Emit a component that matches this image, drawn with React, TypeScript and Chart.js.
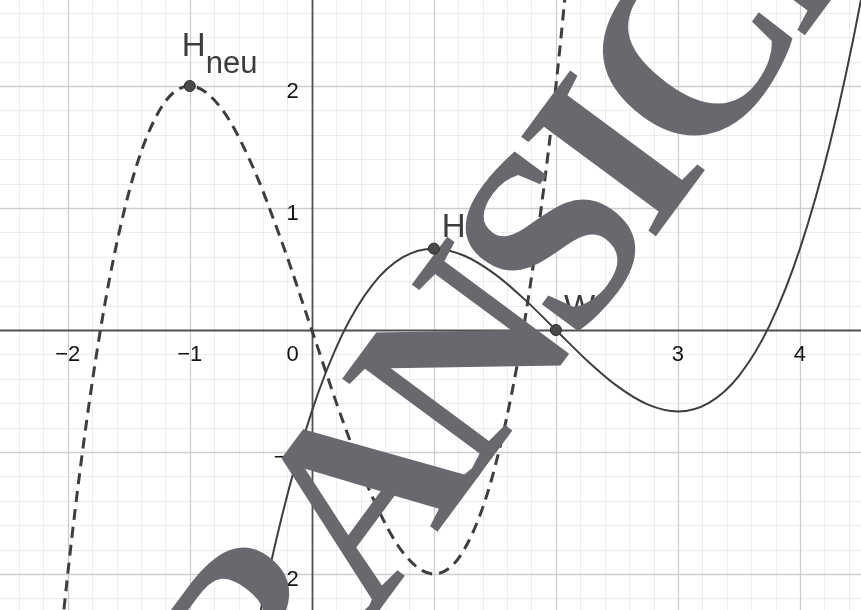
import React, { useEffect, useRef } from "react";
import { Chart, registerables } from "chart.js";

Chart.register(...registerables);

// ---- axis ranges (visible window) ----
const xRange = [-2.555, 4.5];
const yRange = [-2.295, 2.705];

// ---- solid curve ----
const solidX = [-0.75, -0.5, -0.25, 0, 0.25, 0.5, 0.75, 1, 1.25, 1.5, 1.75, 2, 2.25, 2.5, 2.75, 3, 3.25, 3.5, 3.75, 4, 4.25, 4.5, 4.75];
const solidY = [-4.182, -2.708, -1.547, -0.667, -0.036, 0.375, 0.599, 0.667, 0.609, 0.458, 0.245, 0, -0.245, -0.458, -0.609, -0.667, -0.599, -0.375, 0.036, 0.667, 1.547, 2.708, 4.182];

// ---- dashed curve ----
const dashedX = [-2.25, -2, -1.75, -1.5, -1.25, -1, -0.75, -0.5, -0.25, 0, 0.25, 0.5, 0.75, 1, 1.25, 1.5, 1.75, 2, 2.25];
const dashedY = [-4.641, -2, -0.109, 1.125, 1.797, 2, 1.828, 1.375, 0.734, 0, -0.734, -1.375, -1.828, -2, -1.797, -1.125, 0.109, 2, 4.641];

// ---- marked points ----
const pointNames = ["H", "W", "Hneu"];
const pointX = [1, 2, -1];
const pointY = [0.667, 0, 2];

// ---- ticks ----
const xTickValues = [-2, -1, 0, 1, 2, 3, 4];
const xTickLabels = ["−2", "−1", "0", "1", "2", "3", "4"];
const yTickValues = [-2, -1, 1, 2];
const yTickLabels = ["−2", "−1", "1", "2"];
const minorStep = 0.2;

const watermarkText = "VORANSICHT";

const LABEL_FONT = '"Liberation Sans", Arial, sans-serif';

const geoPlugin = {
  id: "geoPlugin",
  beforeDraw(chart: any) {
    const { ctx, width, height } = chart;
    ctx.save();
    ctx.fillStyle = "#ffffff";
    ctx.fillRect(0, 0, width, height);
    ctx.restore();
  },
  beforeDatasetsDraw(chart: any) {
    const { ctx, chartArea } = chart;
    const xs = chart.scales.x;
    const ys = chart.scales.y;
    ctx.save();
    const vLine = (v: number, color: string, w: number) => {
      const p = Math.round(xs.getPixelForValue(v)) + 0.5;
      ctx.strokeStyle = color;
      ctx.lineWidth = w;
      ctx.beginPath();
      ctx.moveTo(p, chartArea.top);
      ctx.lineTo(p, chartArea.bottom);
      ctx.stroke();
    };
    const hLine = (v: number, color: string, w: number) => {
      const p = Math.round(ys.getPixelForValue(v)) + 0.5;
      ctx.strokeStyle = color;
      ctx.lineWidth = w;
      ctx.beginPath();
      ctx.moveTo(chartArea.left, p);
      ctx.lineTo(chartArea.right, p);
      ctx.stroke();
    };
    const iterate = (min: number, max: number, fn: (v: number, major: boolean) => void) => {
      for (let i = Math.ceil(min / minorStep); i <= Math.floor(max / minorStep); i++) {
        const major = ((i % 5) + 5) % 5 === 0;
        fn(i * minorStep, major);
      }
    };
    // minor grid
    iterate(xs.min, xs.max, (v, major) => { if (!major) vLine(v, "#ececec", 1); });
    iterate(ys.min, ys.max, (v, major) => { if (!major) hLine(v, "#ececec", 1); });
    // major grid
    iterate(xs.min, xs.max, (v, major) => { if (major && Math.abs(v) > 1e-9) vLine(v, "#cdcdcd", 1.3); });
    iterate(ys.min, ys.max, (v, major) => { if (major && Math.abs(v) > 1e-9) hLine(v, "#cdcdcd", 1.3); });
    // axes
    vLine(0, "#505050", 1.8);
    hLine(0, "#505050", 1.8);

    // tick labels
    const ax = xs.getPixelForValue(0);
    const ay = ys.getPixelForValue(0);
    ctx.fillStyle = "#141414";
    ctx.font = `22px ${LABEL_FONT}`;
    ctx.textBaseline = "alphabetic";
    xTickValues.forEach((v, i) => {
      const px = xs.getPixelForValue(v);
      if (v === 0) {
        ctx.textAlign = "right";
        ctx.fillText(xTickLabels[i], ax - 13, ay + 31);
      } else {
        ctx.textAlign = "center";
        ctx.fillText(xTickLabels[i], px, ay + 31);
      }
    });
    yTickValues.forEach((v, i) => {
      const py = ys.getPixelForValue(v);
      ctx.textAlign = "right";
      ctx.fillText(yTickLabels[i], ax - 13, py + 12);
    });
    ctx.restore();
  },
  beforeDatasetDraw(chart: any, args: any) {
    if (args.index !== 0) return;
    const { ctx } = chart;
    const xs = chart.scales.x;
    const ys = chart.scales.y;
    ctx.save();
    // point labels
    ctx.fillStyle = "#3c3c3c";
    ctx.textAlign = "left";
    ctx.textBaseline = "alphabetic";
    pointNames.forEach((name, i) => {
      const px = xs.getPixelForValue(pointX[i]);
      const py = ys.getPixelForValue(pointY[i]);
      if (name === "Hneu") {
        ctx.font = `33px ${LABEL_FONT}`;
        ctx.fillText("H", px - 8, py - 30);
        ctx.font = `31px ${LABEL_FONT}`;
        ctx.fillText("neu", px + 16, py - 13);
      } else {
        ctx.font = `33px ${LABEL_FONT}`;
        ctx.fillText(name, px + 8, py - 12);
      }
    });
    // watermark stamp, drawn letter by letter with a tight spacing
    const size = 256;
    const spacing = -15;
    ctx.font = `bold ${size}px "Liberation Serif", "DejaVu Serif", serif`;
    const letters = watermarkText.split("");
    const widths = letters.map((c) => ctx.measureText(c).width);
    const anchor = letters.indexOf("N");
    let startX = -widths[anchor] / 2;
    for (let i = anchor - 1; i >= 0; i--) startX -= widths[i] + spacing;
    ctx.translate(460, 357);
    ctx.rotate((-53.5 * Math.PI) / 180);
    ctx.fillStyle = "#68696e";
    ctx.textAlign = "left";
    let cx = startX;
    const base = (size * 0.67) / 2;
    letters.forEach((c, i) => {
      ctx.fillText(c, cx, base);
      cx += widths[i] + spacing;
    });
    ctx.restore();
  },
};

export default function App() {
  const canvasRef = useRef<HTMLCanvasElement | null>(null);

  useEffect(() => {
    const canvas = canvasRef.current;
    if (!canvas) return;
    const chart = new Chart(canvas, {
      type: "scatter",
      data: {
        datasets: [
          {
            label: "points",
            data: pointX.map((x, i) => ({ x, y: pointY[i] })),
            showLine: false,
            pointRadius: 5.5,
            pointHoverRadius: 5.5,
            pointBackgroundColor: "#4a4a4a",
            pointBorderColor: "#2a2a2a",
            pointBorderWidth: 1,
            clip: false,
          },
          {
            label: "f",
            data: solidX.map((x, i) => ({ x, y: solidY[i] })),
            showLine: true,
            borderColor: "#3e3e3e",
            borderWidth: 2,
            pointRadius: 0,
            pointHoverRadius: 0,
            cubicInterpolationMode: "monotone",
          },
          {
            label: "g",
            data: dashedX.map((x, i) => ({ x, y: dashedY[i] })),
            showLine: true,
            borderColor: "#3e3e3e",
            borderWidth: 3,
            borderDash: [11, 7],
            pointRadius: 0,
            pointHoverRadius: 0,
            cubicInterpolationMode: "monotone",
          },
        ],
      },
      options: {
        animation: false,
        responsive: false,
        devicePixelRatio: 1,
        layout: { padding: 0, autoPadding: false },
        plugins: {
          legend: { display: false },
          tooltip: { enabled: false },
        },
        events: [],
        scales: {
          x: { type: "linear", min: xRange[0], max: xRange[1], display: false },
          y: { type: "linear", min: yRange[0], max: yRange[1], display: false },
        },
      },
      plugins: [geoPlugin],
    } as any);
    return () => chart.destroy();
  }, []);

  return (
    <div style={{ position: "absolute", left: 0, top: 0, width: 861, height: 610 }}>
      <canvas ref={canvasRef} width={861} height={610} style={{ display: "block" }} />
    </div>
  );
}
